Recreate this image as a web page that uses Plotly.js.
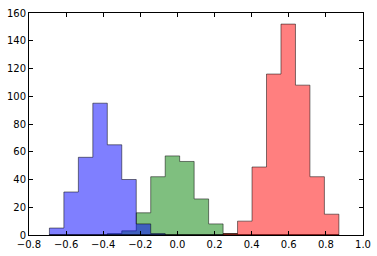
<!DOCTYPE html>
<html>
<head>
<meta charset="utf-8">
<script src="https://cdn.plot.ly/plotly-3.0.1.min.js"></script>
<style>html,body{margin:0;padding:0;background:#fff;}#chart{width:377px;height:256px;}</style>
</head>
<body>
<div id="chart"></div>
<script>
// Shared bin edges (20 bins)
const binStart = -0.69;
const binWidth = 0.078;
const nBins = 20;
// Counts per bin
const greenCounts = [0, 0, 0, 0, 1, 3, 16, 42, 57, 53, 26, 8, 1, 0, 0, 0, 0, 0, 0, 0];
const blueCounts  = [5, 31, 56, 95, 65, 40, 8, 1, 0, 0, 0, 0, 0, 0, 0, 0, 0, 0, 0, 0];
const redCounts   = [0, 0, 0, 0, 0, 0, 0, 0, 0, 0, 0, 0, 1, 10, 49, 116, 152, 108, 42, 15];
const seriesColors = ['rgba(0,128,0,0.5)', 'rgba(0,0,255,0.5)', 'rgba(255,0,0,0.5)'];

const edges = [];
for (let i = 0; i <= nBins; i++) edges.push(+(binStart + i * binWidth).toFixed(4));

function stepTrace(counts, color) {
  const x = [edges[0]], y = [0];
  for (let i = 0; i < counts.length; i++) { x.push(edges[i]); y.push(counts[i]); }
  x.push(edges[nBins]); y.push(counts[nBins - 1]);
  x.push(edges[nBins]); y.push(0);
  x.push(edges[0]); y.push(0);
  return {
    type: 'scatter', mode: 'lines', x: x, y: y,
    line: {shape: 'hv', color: 'rgba(0,0,0,0.5)', width: 1},
    fill: 'toself', fillcolor: color, hoverinfo: 'skip', showlegend: false
  };
}

const data = [
  stepTrace(greenCounts, seriesColors[0]),
  stepTrace(blueCounts, seriesColors[1]),
  stepTrace(redCounts, seriesColors[2])
];

const axisCommon = {
  showgrid: false, zeroline: false, showline: true, linecolor: '#000', linewidth: 1,
  mirror: 'ticks', ticks: 'inside', ticklen: 4, tickcolor: '#000', tickwidth: 1,
  tickfont: {family: 'DejaVu Sans', size: 10, color: '#000'}
};

const layout = {
  width: 377, height: 256,
  margin: {l: 29, r: 14, t: 13, b: 21},
  paper_bgcolor: '#fff', plot_bgcolor: '#fff',
  xaxis: Object.assign({}, axisCommon, {range: [-0.8, 1.0], dtick: 0.2, tick0: 0, tickformat: '.1f'}),
  yaxis: Object.assign({}, axisCommon, {range: [0, 160], dtick: 20, tick0: 0}),
  showlegend: false
};

Plotly.newPlot('chart', data, layout, {displayModeBar: false, staticPlot: true});
</script>
</body>
</html>
